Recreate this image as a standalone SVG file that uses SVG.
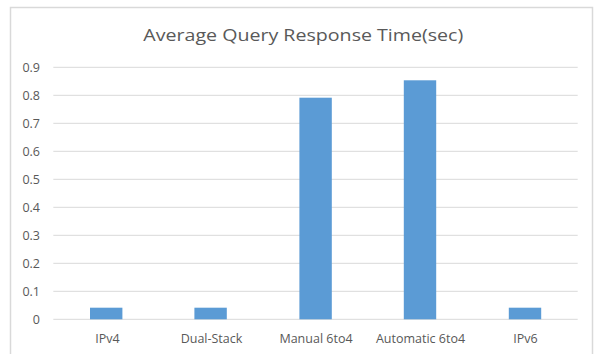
<svg xmlns="http://www.w3.org/2000/svg" width="596" height="354" viewBox="0 0 596 354">
  <style>
    .frame { fill: #ffffff; stroke: #d9d9d9; stroke-width: 1.5; }
    .grid { stroke: #d9d9d9; stroke-width: 1; }
    .bar { fill: #5b9bd5; }
    .title { font-family: "Open Sans", "Liberation Sans", sans-serif; font-size: 17px; fill: #595959; text-anchor: middle; }
    .tick { font-family: "Open Sans", "Liberation Sans", sans-serif; font-size: 12.5px; fill: #595959; text-anchor: end; }
    .cat { font-family: "Open Sans", "Liberation Sans", sans-serif; font-size: 12.5px; fill: #595959; text-anchor: middle; }
  </style>
  <rect width="596" height="354" fill="#ffffff"/>
  <!-- chart area border -->
  <rect class="frame" x="10.5" y="7.5" width="582" height="360"/>

  <text class="title" x="303.3" y="41" textLength="320" lengthAdjust="spacingAndGlyphs">Average Query Response Time(sec)</text>

  <!-- value axis gridlines and labels -->
  <g id="value-axis">
    <line class="grid" x1="53.3" y1="67.3" x2="577.7" y2="67.3"/>
    <line class="grid" x1="53.3" y1="95.3" x2="577.7" y2="95.3"/>
    <line class="grid" x1="53.3" y1="123.3" x2="577.7" y2="123.3"/>
    <line class="grid" x1="53.3" y1="151.3" x2="577.7" y2="151.3"/>
    <line class="grid" x1="53.3" y1="179.3" x2="577.7" y2="179.3"/>
    <line class="grid" x1="53.3" y1="207.3" x2="577.7" y2="207.3"/>
    <line class="grid" x1="53.3" y1="235.3" x2="577.7" y2="235.3"/>
    <line class="grid" x1="53.3" y1="263.3" x2="577.7" y2="263.3"/>
    <line class="grid" x1="53.3" y1="291.3" x2="577.7" y2="291.3"/>
    <line class="grid" x1="53.3" y1="319.3" x2="577.7" y2="319.3"/>
    <text class="tick" x="40" y="72">0.9</text>
    <text class="tick" x="40" y="100">0.8</text>
    <text class="tick" x="40" y="128">0.7</text>
    <text class="tick" x="40" y="156">0.6</text>
    <text class="tick" x="40" y="184">0.5</text>
    <text class="tick" x="40" y="212">0.4</text>
    <text class="tick" x="40" y="240">0.3</text>
    <text class="tick" x="40" y="268">0.2</text>
    <text class="tick" x="40" y="296">0.1</text>
    <text class="tick" x="40" y="324">0</text>
  </g>

  <!-- series bars with category labels -->
  <g id="bar-ipv4">
    <rect class="bar" x="90" y="307.7" width="32.4" height="11.6"/>
    <text class="cat" x="107.5" y="343">IPv4</text>
  </g>
  <g id="bar-dual-stack">
    <rect class="bar" x="194.4" y="307.7" width="32.4" height="11.6"/>
    <text class="cat" x="211.5" y="343">Dual-Stack</text>
  </g>
  <g id="bar-manual-6to4">
    <rect class="bar" x="299.4" y="97.7" width="32.4" height="221.6"/>
    <text class="cat" x="316" y="343">Manual 6to4</text>
  </g>
  <g id="bar-automatic-6to4">
    <rect class="bar" x="403.8" y="80.3" width="32.4" height="239"/>
    <text class="cat" x="420.5" y="343">Automatic 6to4</text>
  </g>
  <g id="bar-ipv6">
    <rect class="bar" x="508.8" y="307.7" width="32.4" height="11.6"/>
    <text class="cat" x="525.5" y="343">IPv6</text>
  </g>
</svg>
